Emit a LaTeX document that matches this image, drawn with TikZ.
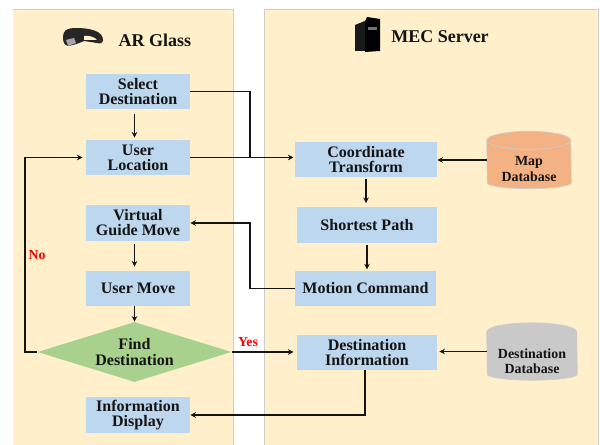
\documentclass[tikz,border=0pt]{standalone}
\usepackage{fontspec}
\setmainfont{Liberation Serif}
\usepackage{xcolor}
\usetikzlibrary{arrows.meta,shapes.geometric}
\definecolor{panel}{HTML}{FFF0CB}
\definecolor{edge}{HTML}{CFCDC8}
\definecolor{step}{HTML}{BDD7EE}
\definecolor{choice}{HTML}{A9D18E}
\definecolor{mapdb}{HTML}{F4B183}
\definecolor{destdb}{HTML}{C9C9C9}
\definecolor{ink}{HTML}{141414}
\tikzset{
  lab/.style={text=ink, font=\bfseries\fontsize{11.4}{10.7}\selectfont, align=center, inner sep=0pt},
  dblab/.style={lab, font=\bfseries\fontsize{9.9}{10.7}\selectfont},
  head/.style={text=ink, font=\bfseries\fontsize{12.8}{14}\selectfont, inner sep=0pt},
  res/.style={text=red, font=\bfseries\fontsize{9.8}{10}\selectfont, inner sep=0pt},
  stepbox/.style={lab, fill=step, minimum width=2.6cm, minimum height=0.88cm},
  srvbox/.style={stepbox, minimum width=3.5cm},
  dbbox/.style={inner sep=0pt, minimum height=1.42cm},
  dbline/.style={draw=edge, line width=0.5pt},
  flow/.style={draw=ink, line width=0.85pt, -{Stealth[length=4pt,width=4pt]}},
  wire/.style={draw=ink, line width=0.85pt},
}

\begin{document}
\begin{tikzpicture}[x=0.025cm,y=-0.025cm]
  \useasboundingbox (0,0) rectangle (600,445);
  % the two panels
  \fill[panel] (13,9) rectangle (233,445);
  \fill[panel] (264,9) rectangle (598,445);
  \draw[edge,line width=0.6pt] (13,9) -- (233,9) -- (233,445);
  \draw[edge,line width=0.6pt] (264,445) -- (264,9) -- (598,9) -- (598,445);
  % headings and their icons
  \node[head] (glass) at (155,40) {AR Glass};
  \node[head] (server) at (440,37) {MEC Server};
  \fill[black!85] (63,37) .. controls (63,31) and (66,28) .. (76,28) .. controls (90,28) and (103,31) .. (103,40)
    .. controls (103,43) and (100,44) .. (97,43) -- (84,41)
    .. controls (80,43) and (74,45) .. (68,46) .. controls (64,45) and (63,42) .. (63,37) -- cycle;
  \fill[panel] (84,36) .. controls (88,35) and (95,37) .. (97,40) -- (84,40) -- cycle;
  \fill[black!35] (66,40) -- (74,38) -- (76,43) -- (68,46) -- cycle;
  \fill[red!70!black] (99,39) rectangle (101,41);
  \fill[black!90] (355,25) -- (365,21) -- (365,51) -- (355,51) -- cycle;
  \fill[black] (365,21) -- (367,17) -- (380,19) -- (380,51) -- (365,52) -- cycle;
  \fill[black!55] (368,27) rectangle (377,30);
  % AR glass side
  \node[stepbox] (sel) at (138,91.5) {Select\\Destination};
  \node[stepbox] (usr) at (138,157.5) {User\\Location};
  \node[stepbox] (vir) at (138,223) {Virtual\\Guide Move};
  \node[stepbox] (mov) at (138,288.5) {User Move};
  \node[lab,diamond,fill=choice,aspect=3.23,minimum width=4.85cm,minimum height=1.5cm] (dia) at (134.5,352) {Find\\Destination};
  \node[stepbox] (inf) at (138,415) {Information\\Display};
  % MEC server side
  \node[srvbox,minimum width=3.55cm] (coo) at (366,159.5) {Coordinate\\Transform};
  \node[srvbox] (sho) at (367,225) {Shortest Path};
  \node[srvbox] (mot) at (365.5,288.5) {Motion Command};
  \node[srvbox] (des) at (367,352.5) {Destination\\Information};
  % databases
  \node[dbbox,minimum width=2.1cm] (map) at (529,160) {};
  \node[dbbox,minimum width=2.25cm] (ddb) at (532,351.5) {};
  \foreach \N/\C/\R in {map/mapdb/1.05,ddb/destdb/1.125} {
    \draw[dbline,fill=\C] ([yshift=-0.225cm]\N.north west) arc[start angle=180,end angle=0,x radius=\R cm,y radius=0.225cm]
      -- ([yshift=0.15cm]\N.south east) arc[start angle=0,end angle=-180,x radius=\R cm,y radius=0.15cm] -- cycle;
    \draw[dbline] ([yshift=-0.225cm]\N.north west) arc[start angle=180,end angle=360,x radius=\R cm,y radius=0.225cm];
  }
  \node[dblab] (mapt) at (529,169) {Map\\Database};
  \node[dblab] (ddbt) at (532,361) {Destination\\Database};
  \coordinate (jn) at (usr.east -| 250,0);
  \coordinate (lft) at (25,0);
  % connectors
  \draw[flow] (sel.south -| dia.north) ++(0,5) -- ([yshift=0.05cm]usr.north -| dia.north);
  \draw[flow] (vir.south -| dia.north) ++(0,3) -- ([yshift=0.1cm]mov.north -| dia.north);
  \draw[flow] (mov.south -| dia.north) -- (dia.north);
  \draw[wire] (sel.east) -| (jn);
  \draw[flow] (usr.east) -- ([xshift=-0.03cm]usr.east -| coo.west);
  \draw[flow] (dia.west) -- (dia.west -| lft) |- ([xshift=-0.08cm]usr.west);
  \draw[flow] (mot.west) -| (250,223) -- (vir.east);
  \draw[flow] (dia.east) -- ([xshift=-0.08cm]dia.east -| des.west);
  \draw[flow] ([xshift=-0.05cm]des.south) |- (inf.east);
  \draw[flow] (coo.south) ++(0,2) -- ([yshift=0.1cm]coo.south |- sho.north);
  \draw[flow] (sho.south) ++(0,2) -- ([yshift=0.03cm]sho.south |- mot.north);
  \draw[flow] (map.west) -- (map.west -| coo.east);
  \draw[flow] (ddb.west) -- ([xshift=0.05cm]ddb.west -| des.east);
  \node[res] (no) at (37,255) {No};
  \node[res] (yes) at (248,342) {Yes};
\end{tikzpicture}
\end{document}
